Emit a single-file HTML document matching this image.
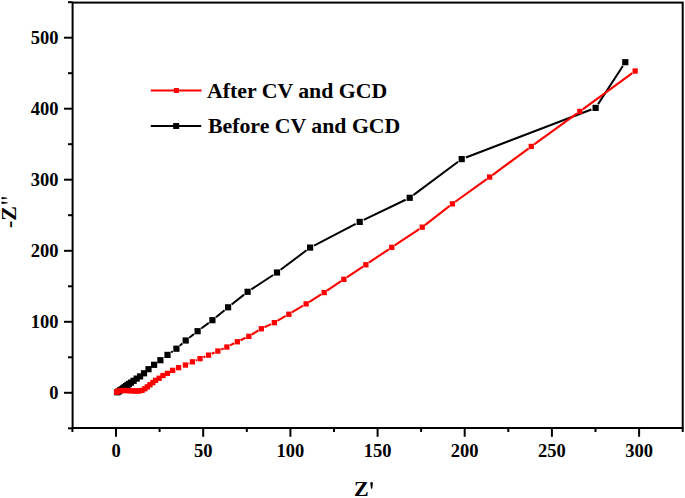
<!DOCTYPE html>
<html><head><meta charset="utf-8"><style>
html,body{margin:0;padding:0;background:#fff;}
svg{display:block;}
text{font-family:"Liberation Serif",serif;font-weight:bold;fill:#000;}
</style></head><body>
<svg width="685" height="498" viewBox="0 0 685 498">
<rect width="685" height="498" fill="#fff"/>
<g stroke="#000" stroke-width="2" fill="none">
<rect x="72.6" y="2.6" width="610.1" height="425.4"/>
<line x1="64" y1="392.8" x2="72.6" y2="392.8"/><line x1="64" y1="321.8" x2="72.6" y2="321.8"/><line x1="64" y1="250.8" x2="72.6" y2="250.8"/><line x1="64" y1="179.7" x2="72.6" y2="179.7"/><line x1="64" y1="108.7" x2="72.6" y2="108.7"/><line x1="64" y1="37.7" x2="72.6" y2="37.7"/><line x1="68" y1="428.3" x2="72.6" y2="428.3"/><line x1="68" y1="357.3" x2="72.6" y2="357.3"/><line x1="68" y1="286.3" x2="72.6" y2="286.3"/><line x1="68" y1="215.2" x2="72.6" y2="215.2"/><line x1="68" y1="144.2" x2="72.6" y2="144.2"/><line x1="68" y1="73.2" x2="72.6" y2="73.2"/><line x1="68" y1="2.2" x2="72.6" y2="2.2"/><line x1="116.0" y1="428" x2="116.0" y2="436.8"/><line x1="203.2" y1="428" x2="203.2" y2="436.8"/><line x1="290.4" y1="428" x2="290.4" y2="436.8"/><line x1="377.6" y1="428" x2="377.6" y2="436.8"/><line x1="464.7" y1="428" x2="464.7" y2="436.8"/><line x1="551.9" y1="428" x2="551.9" y2="436.8"/><line x1="639.1" y1="428" x2="639.1" y2="436.8"/><line x1="72.4" y1="428" x2="72.4" y2="432"/><line x1="159.6" y1="428" x2="159.6" y2="432"/><line x1="246.8" y1="428" x2="246.8" y2="432"/><line x1="334.0" y1="428" x2="334.0" y2="432"/><line x1="421.1" y1="428" x2="421.1" y2="432"/><line x1="508.3" y1="428" x2="508.3" y2="432"/><line x1="595.5" y1="428" x2="595.5" y2="432"/><line x1="682.7" y1="428" x2="682.7" y2="432"/>
</g>
<g font-size="18.5"><text x="58.4" y="398.8" text-anchor="end">0</text><text x="58.4" y="327.8" text-anchor="end">100</text><text x="58.4" y="256.8" text-anchor="end">200</text><text x="58.4" y="185.7" text-anchor="end">300</text><text x="58.4" y="114.7" text-anchor="end">400</text><text x="58.4" y="43.7" text-anchor="end">500</text><text x="116.0" y="456.6" text-anchor="middle">0</text><text x="203.2" y="456.6" text-anchor="middle">50</text><text x="290.4" y="456.6" text-anchor="middle">100</text><text x="377.6" y="456.6" text-anchor="middle">150</text><text x="464.7" y="456.6" text-anchor="middle">200</text><text x="551.9" y="456.6" text-anchor="middle">250</text><text x="639.1" y="456.6" text-anchor="middle">300</text></g>
<text x="354" y="496.4" font-size="22">Z</text>
<path d="M370.2,482.7 Q371.5,481.1 372.9,482.7 L372.3,488.2 Q371.6,489.3 371.0,488.2 Z" fill="#000"/>
<text transform="translate(16.2,228) rotate(-90)" font-size="22">-Z</text>
<path d="M1.9,197.0 Q0.8,198.1 1.9,199.2 L7.2,198.5 Q7.6,198.1 7.2,197.7 Z" fill="#000"/>
<path d="M1.9,201.6 Q0.8,202.8 1.9,204.0 L7.6,203.2 Q8.0,202.8 7.6,202.4 Z" fill="#000"/>
<path d="M171.19,352.33L172.71,351.27M179.78,345.72L182.32,343.48M189.25,337.73L194.05,333.97M201.21,328.52L208.79,322.88M215.88,317.34L224.62,310.16M231.62,304.50L244.08,294.60M251.36,289.33L273.24,274.97M280.60,269.79L306.50,250.31M314.10,245.53L355.70,223.97M363.75,219.95L405.65,199.75M413.31,195.11L458.09,161.79M465.90,157.49L591.40,109.51M598.05,104.13L622.85,65.97" fill="none" stroke="#000" stroke-width="2"/>
<g fill="#000"><rect x="114.3" y="389.2" width="6.2" height="6.2"/><rect x="115.6" y="388.3" width="6.2" height="6.2"/><rect x="116.9" y="387.3" width="6.2" height="6.2"/><rect x="118.4" y="386.3" width="6.2" height="6.2"/><rect x="119.9" y="385.2" width="6.2" height="6.2"/><rect x="121.4" y="384.1" width="6.2" height="6.2"/><rect x="122.9" y="383.0" width="6.2" height="6.2"/><rect x="124.4" y="381.9" width="6.2" height="6.2"/><rect x="125.9" y="380.9" width="6.2" height="6.2"/><rect x="127.8" y="379.5" width="6.2" height="6.2"/><rect x="130.5" y="377.7" width="6.2" height="6.2"/><rect x="133.6" y="375.5" width="6.2" height="6.2"/><rect x="137.0" y="373.3" width="6.2" height="6.2"/><rect x="140.9" y="370.2" width="6.2" height="6.2"/><rect x="145.4" y="366.1" width="6.2" height="6.2"/><rect x="151.0" y="361.7" width="6.2" height="6.2"/><rect x="157.3" y="357.1" width="6.2" height="6.2"/><rect x="164.4" y="351.8" width="6.2" height="6.2"/><rect x="173.3" y="345.6" width="6.2" height="6.2"/><rect x="182.6" y="337.4" width="6.2" height="6.2"/><rect x="194.5" y="328.1" width="6.2" height="6.2"/><rect x="209.3" y="317.1" width="6.2" height="6.2"/><rect x="225.0" y="304.2" width="6.2" height="6.2"/><rect x="244.5" y="288.7" width="6.2" height="6.2"/><rect x="273.9" y="269.4" width="6.2" height="6.2"/><rect x="307.0" y="244.5" width="6.2" height="6.2"/><rect x="356.6" y="218.8" width="6.2" height="6.2"/><rect x="406.6" y="194.7" width="6.2" height="6.2"/><rect x="458.6" y="156.0" width="6.2" height="6.2"/><rect x="592.5" y="104.8" width="6.2" height="6.2"/><rect x="622.2" y="59.1" width="6.2" height="6.2"/></g>
<path d="M188.61,363.60L189.29,363.30M195.71,360.51L196.89,359.99M203.34,357.27L205.36,356.43M211.80,353.68L214.60,352.42M221.00,349.59L223.70,348.41M230.02,345.41L234.18,343.29M240.47,340.21L245.63,337.79M251.79,334.48L258.31,330.52M264.47,327.21L271.13,324.09M277.33,320.85L285.77,315.95M291.81,312.41L303.09,305.69M309.06,302.03L321.14,294.37M327.01,290.56L340.99,281.24M346.82,277.36L362.98,266.64M368.80,262.74L388.80,249.26M394.62,245.37L419.28,229.13M424.97,225.06L449.63,205.94M455.24,201.76L486.76,179.14M492.42,175.03L528.48,148.57M534.14,144.45L577.06,113.45M582.73,109.34L632.27,73.16" fill="none" stroke="#f00" stroke-width="2.1"/>
<g fill="#f00"><rect x="113.9" y="389.6" width="5.3" height="5.3"/><rect x="115.2" y="388.8" width="5.3" height="5.3"/><rect x="116.9" y="388.2" width="5.3" height="5.3"/><rect x="119.1" y="387.9" width="5.3" height="5.3"/><rect x="121.5" y="387.8" width="5.3" height="5.3"/><rect x="124.0" y="387.9" width="5.3" height="5.3"/><rect x="126.5" y="388.0" width="5.3" height="5.3"/><rect x="129.2" y="388.2" width="5.3" height="5.3"/><rect x="131.8" y="388.2" width="5.3" height="5.3"/><rect x="134.3" y="388.4" width="5.3" height="5.3"/><rect x="136.9" y="388.2" width="5.3" height="5.3"/><rect x="139.4" y="387.7" width="5.3" height="5.3"/><rect x="142.2" y="386.1" width="5.3" height="5.3"/><rect x="144.7" y="384.2" width="5.3" height="5.3"/><rect x="147.3" y="382.1" width="5.3" height="5.3"/><rect x="150.2" y="379.9" width="5.3" height="5.3"/><rect x="152.9" y="377.7" width="5.3" height="5.3"/><rect x="156.5" y="375.6" width="5.3" height="5.3"/><rect x="160.3" y="372.9" width="5.3" height="5.3"/><rect x="164.8" y="370.7" width="5.3" height="5.3"/><rect x="170.0" y="367.7" width="5.3" height="5.3"/><rect x="175.9" y="365.0" width="5.3" height="5.3"/><rect x="182.8" y="362.4" width="5.3" height="5.3"/><rect x="189.8" y="359.2" width="5.3" height="5.3"/><rect x="197.4" y="356.0" width="5.3" height="5.3"/><rect x="205.9" y="352.5" width="5.3" height="5.3"/><rect x="215.2" y="348.4" width="5.3" height="5.3"/><rect x="224.2" y="344.4" width="5.3" height="5.3"/><rect x="234.7" y="339.1" width="5.3" height="5.3"/><rect x="246.2" y="333.7" width="5.3" height="5.3"/><rect x="258.7" y="326.1" width="5.3" height="5.3"/><rect x="271.7" y="320.0" width="5.3" height="5.3"/><rect x="286.2" y="311.6" width="5.3" height="5.3"/><rect x="303.5" y="301.2" width="5.3" height="5.3"/><rect x="321.5" y="289.9" width="5.3" height="5.3"/><rect x="341.2" y="276.7" width="5.3" height="5.3"/><rect x="363.2" y="262.1" width="5.3" height="5.3"/><rect x="389.1" y="244.7" width="5.3" height="5.3"/><rect x="419.6" y="224.5" width="5.3" height="5.3"/><rect x="449.8" y="201.2" width="5.3" height="5.3"/><rect x="487.0" y="174.4" width="5.3" height="5.3"/><rect x="528.6" y="143.8" width="5.3" height="5.3"/><rect x="577.2" y="108.8" width="5.3" height="5.3"/><rect x="632.5" y="68.4" width="5.3" height="5.3"/></g>
<line x1="150.8" y1="90.5" x2="201.6" y2="90.5" stroke="#f00" stroke-width="2"/>
<rect x="173.9" y="88" width="5" height="5" fill="#f00"/>
<line x1="150.8" y1="126" x2="201.2" y2="126" stroke="#000" stroke-width="2"/>
<rect x="173.2" y="123" width="6" height="6" fill="#000"/>
<g font-size="21.8">
<text x="207" y="98.2">After CV and GCD</text>
<text x="208" y="133.3">Before CV and GCD</text>
</g>
</svg>
</body></html>
